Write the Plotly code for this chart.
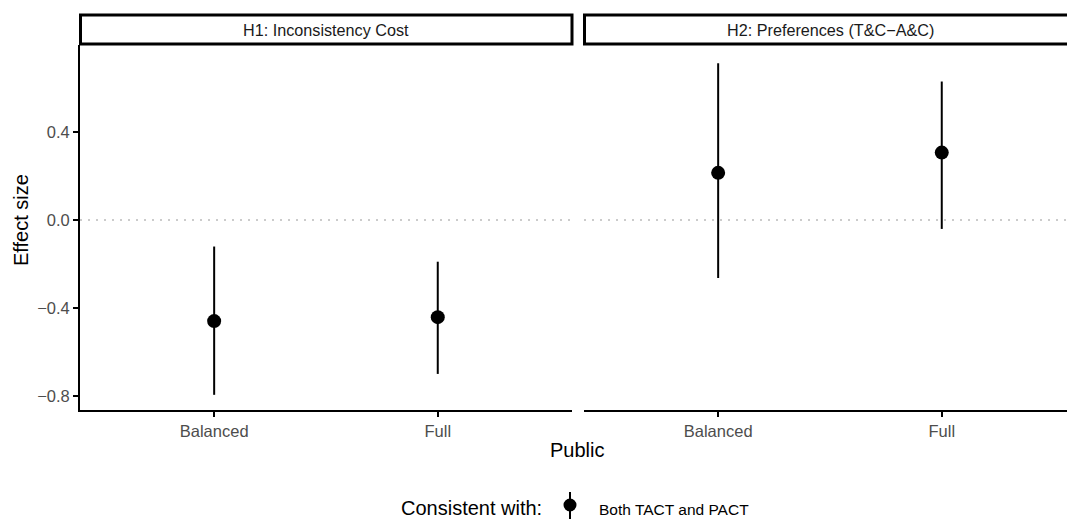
import plotly.graph_objects as go

# ---- data ----
panels = ["H1: Inconsistency Cost", "H2: Preferences (T&C\u2212A&C)"]
categories = ["Balanced", "Full"]
h1_est = [-0.46, -0.442]
h1_lo = [-0.795, -0.70]
h1_hi = [-0.121, -0.19]
h2_est = [0.214, 0.306]
h2_lo = [-0.264, -0.041]
h2_hi = [0.712, 0.629]
y_tickvals = [-0.8, -0.4, 0.0, 0.4]
y_ticktext = ["\u22120.8", "\u22120.4", "0.0", "0.4"]
legend_title = "Consistent with:"
legend_label = "Both TACT and PACT"

FONT = "Liberation Sans, Arial, sans-serif"
W, H = 1067, 519
ML, MR, MT, MB = 80, 0, 45, 109
PW = W - ML - MR
PH = H - MT - MB
px_per_unit = 223.6
p1_left, p1_right = 80, 572
p2_left = 584


def xp(px):
    return (px - ML) / PW


def yp(py):
    return (H - MB - py) / PH


fig = go.Figure()

series = [(h1_est, h1_lo, h1_hi, "x", "y"), (h2_est, h2_lo, h2_hi, "x2", "y2")]
for i, (est, lo, hi, xa, ya) in enumerate(series):
    fig.add_trace(go.Scatter(
        x=[1, 2], y=est, mode="markers", xaxis=xa, yaxis=ya,
        marker=dict(color="black", size=14, line=dict(width=0)),
        error_y=dict(type="data", symmetric=False,
                     array=[h - e for h, e in zip(hi, est)],
                     arrayminus=[e - l for e, l in zip(est, lo)],
                     width=0, thickness=2, color="black"),
        name=legend_label, showlegend=False, hoverinfo="skip",
    ))

d1 = [0, xp(p1_right)]
d2 = [xp(p2_left), 1]
r1 = [0.4, 0.4 + (p1_right - p1_left) / px_per_unit]
r2 = [0.4, 0.4 + (W - p2_left) / px_per_unit]
yr = [-0.864, 0.795]

TICKFONT = dict(family=FONT, size=16.5, color="#4D4D4D")
xcommon = dict(tickvals=[1, 2], ticktext=categories, showgrid=False, zeroline=False,
               showline=True, linecolor="black", linewidth=1.8,
               ticks="outside", ticklen=5, tickwidth=1.5, tickcolor="black",
               tickfont=TICKFONT, fixedrange=True)
ycommon = dict(range=yr, tickvals=y_tickvals, ticktext=y_ticktext, showgrid=False,
               zeroline=False, fixedrange=True)

fig.update_layout(
    width=W, height=H,
    margin=dict(l=ML, r=MR, t=MT, b=MB, autoexpand=False),
    paper_bgcolor="white", plot_bgcolor="white",
    font=dict(family=FONT, color="black"),
    xaxis=dict(domain=d1, range=r1, anchor="y", **xcommon),
    xaxis2=dict(domain=d2, range=r2, anchor="y2", **xcommon),
    yaxis=dict(domain=[0, 1], anchor="x", showline=True, linecolor="black", linewidth=1.8,
               ticks="outside", ticklen=5, tickwidth=1.5, tickcolor="black",
               tickfont=TICKFONT, **ycommon),
    yaxis2=dict(domain=[0, 1], anchor="x2", showline=False, showticklabels=False, ticks="", **ycommon),
    showlegend=False,
)

shapes = []
# zero reference lines
for xa, ya in [("x", "y"), ("x2", "y2")]:
    shapes.append(dict(type="line", xref=f"{xa} domain", yref=ya, x0=0, x1=1, y0=0, y1=0,
                       line=dict(color="#BBBBBB", width=1.5, dash="2px,6px"), layer="below"))
# strips
for x0, x1 in [(80.5, 572), (584.5, 1080)]:
    shapes.append(dict(type="rect", xref="paper", yref="paper", x0=xp(x0), x1=xp(x1),
                       y0=yp(44), y1=yp(15), fillcolor="white",
                       line=dict(color="black", width=3)))
# legend key: vertical line with point
shapes.append(dict(type="line", xref="paper", yref="paper", x0=xp(570), x1=xp(570),
                   y0=yp(519), y1=yp(492), line=dict(color="black", width=2)))
shapes.append(dict(type="circle", xref="paper", yref="paper", xsizemode="pixel",
                   ysizemode="pixel", xanchor=xp(570), yanchor=yp(505),
                   x0=-6.5, x1=6.5, y0=-6.5, y1=6.5, fillcolor="black",
                   line=dict(color="black", width=0)))
fig.update_layout(shapes=shapes)

ann = []
for txt, cx in [(panels[0], (80 + 572) / 2), (panels[1], 584 + (572 - 80) / 2)]:
    ann.append(dict(text=txt, xref="paper", yref="paper", x=xp(cx), y=yp(29.5),
                    showarrow=False, xanchor="center", yanchor="middle",
                    font=dict(family=FONT, size=16.2, color="#1A1A1A")))
ann.append(dict(text="Public", xref="paper", yref="paper", x=xp(577), y=yp(450),
                showarrow=False, xanchor="center", yanchor="middle",
                font=dict(family=FONT, size=20, color="black")))
ann.append(dict(text="Effect size", xref="paper", yref="paper", x=xp(21), y=yp(220),
                showarrow=False, xanchor="center", yanchor="middle", textangle=-90,
                font=dict(family=FONT, size=20, color="black")))
ann.append(dict(text=legend_title, xref="paper", yref="paper", x=xp(544), y=yp(508),
                showarrow=False, xanchor="right", yanchor="middle",
                font=dict(family=FONT, size=20, color="black")))
ann.append(dict(text=legend_label, xref="paper", yref="paper", x=xp(597), y=yp(509),
                showarrow=False, xanchor="left", yanchor="middle",
                font=dict(family=FONT, size=15.5, color="black")))
fig.update_layout(annotations=ann)

fig.write_html("out.html", config={"displayModeBar": False},
               post_script="document.body.style.margin='0';document.body.style.overflow='hidden';")
